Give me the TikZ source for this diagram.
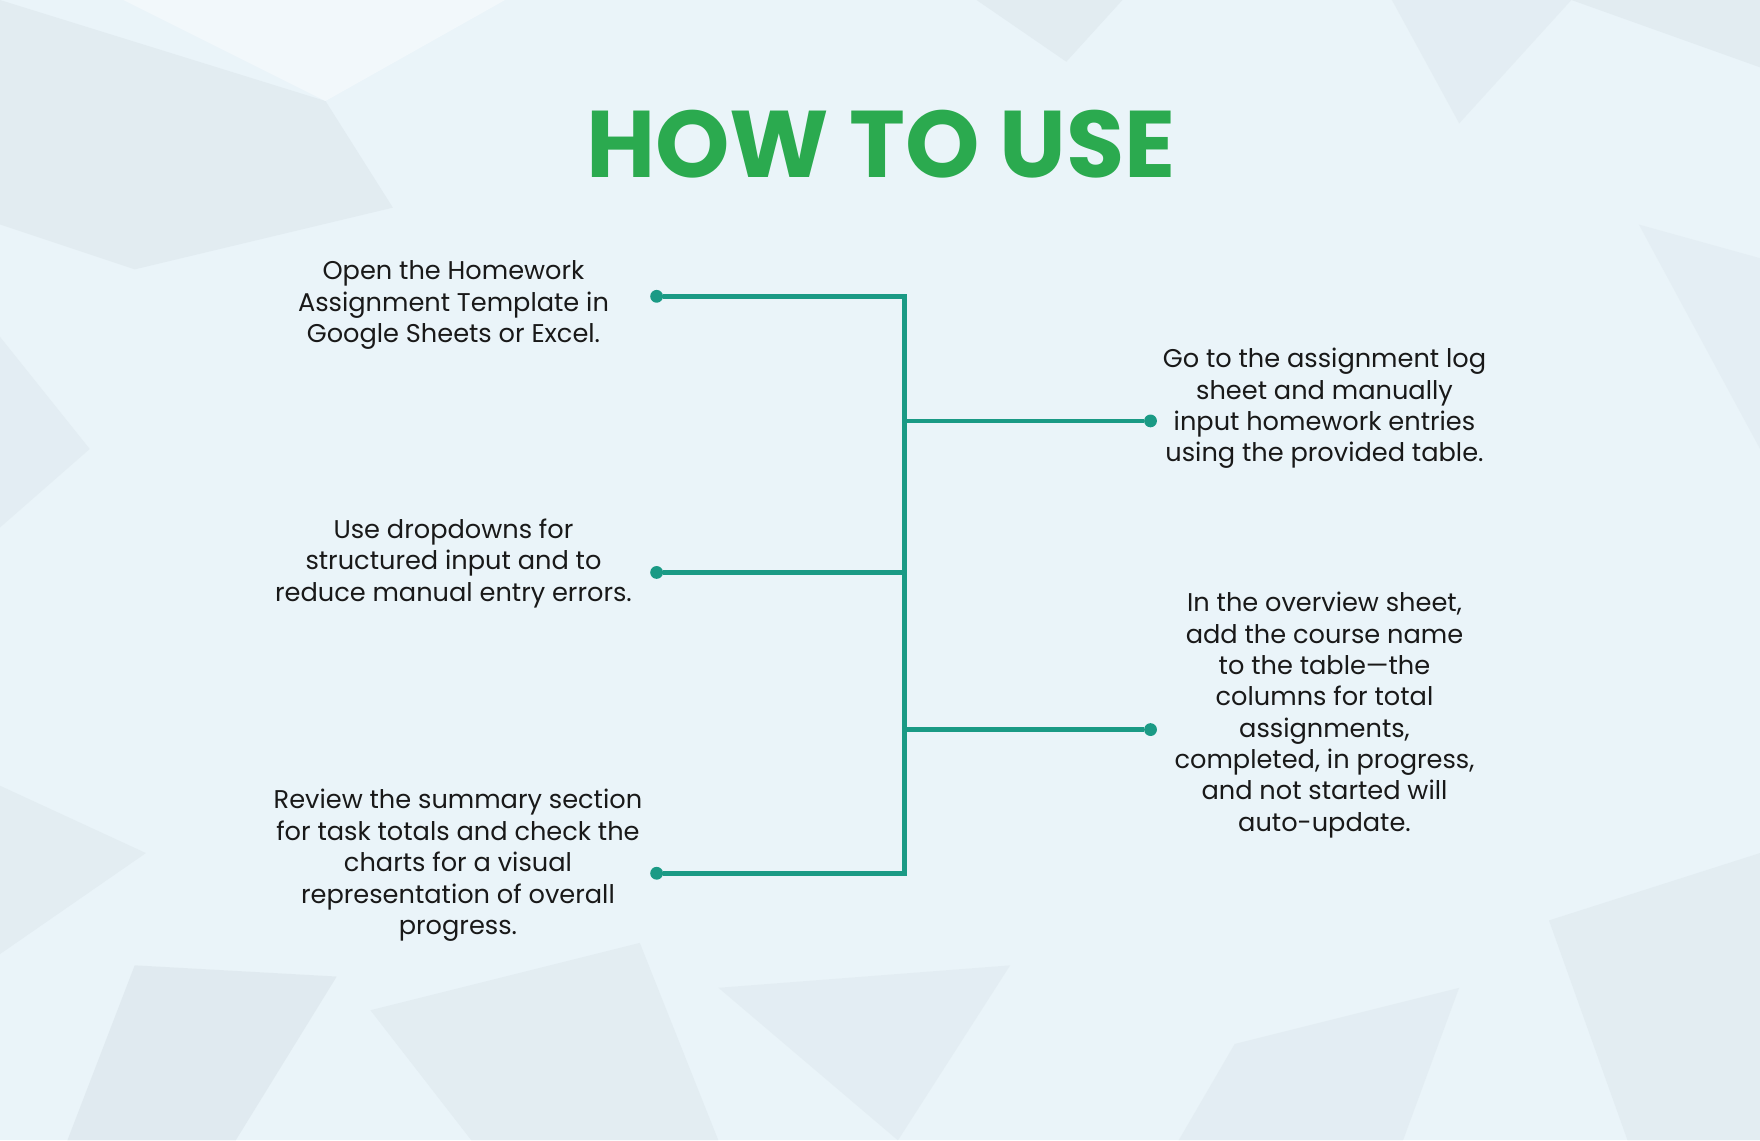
\documentclass[tikz,border=0pt]{standalone}
\usepackage{fontspec}
\setmainfont{Poppins}
\usetikzlibrary{positioning}

\begin{document}
\begin{tikzpicture}[x=0.02cm,y=-0.02cm]
% Define colors
\definecolor{bgblue}{RGB}{234,244,249}
\definecolor{facet}{RGB}{214,224,230}
\definecolor{facetlight}{RGB}{244,249,252}
\definecolor{titlegreen}{RGB}{43,170,79}
\definecolor{teal}{RGB}{26,154,133}
\definecolor{ink}{RGB}{25,25,25}
\tikzset{
  steptext/.style={align=center,text=ink,font=\fontsize{13}{15.9}\selectfont,inner sep=0pt},
  link/.style={teal,line width=2.3pt},
  dot/.style={circle,fill=teal,inner sep=0pt,minimum size=6.5pt}
}

% Background
\fill[bgblue] (0,0) rectangle (1568,1016);
\useasboundingbox (0,0) rectangle (1568,1016);
\fill[facet,opacity=0.4] (0,0) -- (290,90) -- (350,185) -- (120,240) -- (0,200) -- cycle;
\fill[facetlight,opacity=0.8] (110,0) -- (450,0) -- (290,90) -- cycle;
\fill[facet,opacity=0.4] (870,0) -- (1000,0) -- (950,55) -- cycle;
\fill[facet,opacity=0.4] (1400,0) -- (1568,0) -- (1568,60) -- cycle;
\fill[facet,opacity=0.3] (1240,0) -- (1400,0) -- (1300,110) -- cycle;
\fill[facet,opacity=0.3] (0,300) -- (80,400) -- (0,470) -- cycle;
\fill[facet,opacity=0.35] (0,700) -- (130,760) -- (0,850) -- cycle;
\fill[facet,opacity=0.45] (120,860) -- (300,870) -- (210,1016) -- (60,1016) -- cycle;
\fill[facet,opacity=0.35] (330,900) -- (570,840) -- (640,1016) -- (420,1016) -- cycle;
\fill[facet,opacity=0.3] (640,880) -- (900,860) -- (800,1016) -- cycle;
\fill[facet,opacity=0.35] (1380,820) -- (1568,760) -- (1568,1016) -- (1450,1016) -- cycle;
\fill[facet,opacity=0.3] (1100,930) -- (1300,880) -- (1250,1016) -- (1050,1016) -- cycle;
\fill[facet,opacity=0.25] (1460,200) -- (1568,230) -- (1568,400) -- cycle;

% Title
\node[font=\fontsize{48}{60}\selectfont\bfseries,text=titlegreen] (title) at (785,128) {HOW TO USE};

% Connector points
\coordinate (top) at (806,264);
\coordinate (bottom) at (806,778);
\node[dot] (l1) at (585,264) {};
\node[dot] (l2) at (585,510) {};
\node[dot] (l3) at (585,778) {};
\node[dot] (r1) at (1025,375) {};
\node[dot] (r2) at (1025,650) {};

% Connectors
\draw[link] (l1) -- (top) -- (bottom) -- (l3);
\draw[link] (l2) -- (l2 -| top);
\draw[link] (r1) -- (r1 -| top);
\draw[link] (r2) -- (r2 -| top);

% Step texts
\node[steptext] (s1) at (404,272) {Open the Homework\\Assignment Template in\\Google Sheets or Excel.};
\node[steptext] (s2) at (404,502) {Use dropdowns for\\structured input and to\\reduce manual entry errors.};
\node[steptext] (s3) at (408,771) {Review the summary section\\for task totals and check the\\charts for a visual\\representation of overall\\progress.};
\node[steptext] (s4) at (1180,364) {Go to the assignment log\\sheet and manually\\input homework entries\\using the provided table.};
\node[steptext] (s5) at (1180,637) {In the overview sheet,\\add the course name\\to the table—the\\columns for total\\assignments,\\completed, in progress,\\and not started will\\auto-update.};
\end{tikzpicture}
\end{document}
